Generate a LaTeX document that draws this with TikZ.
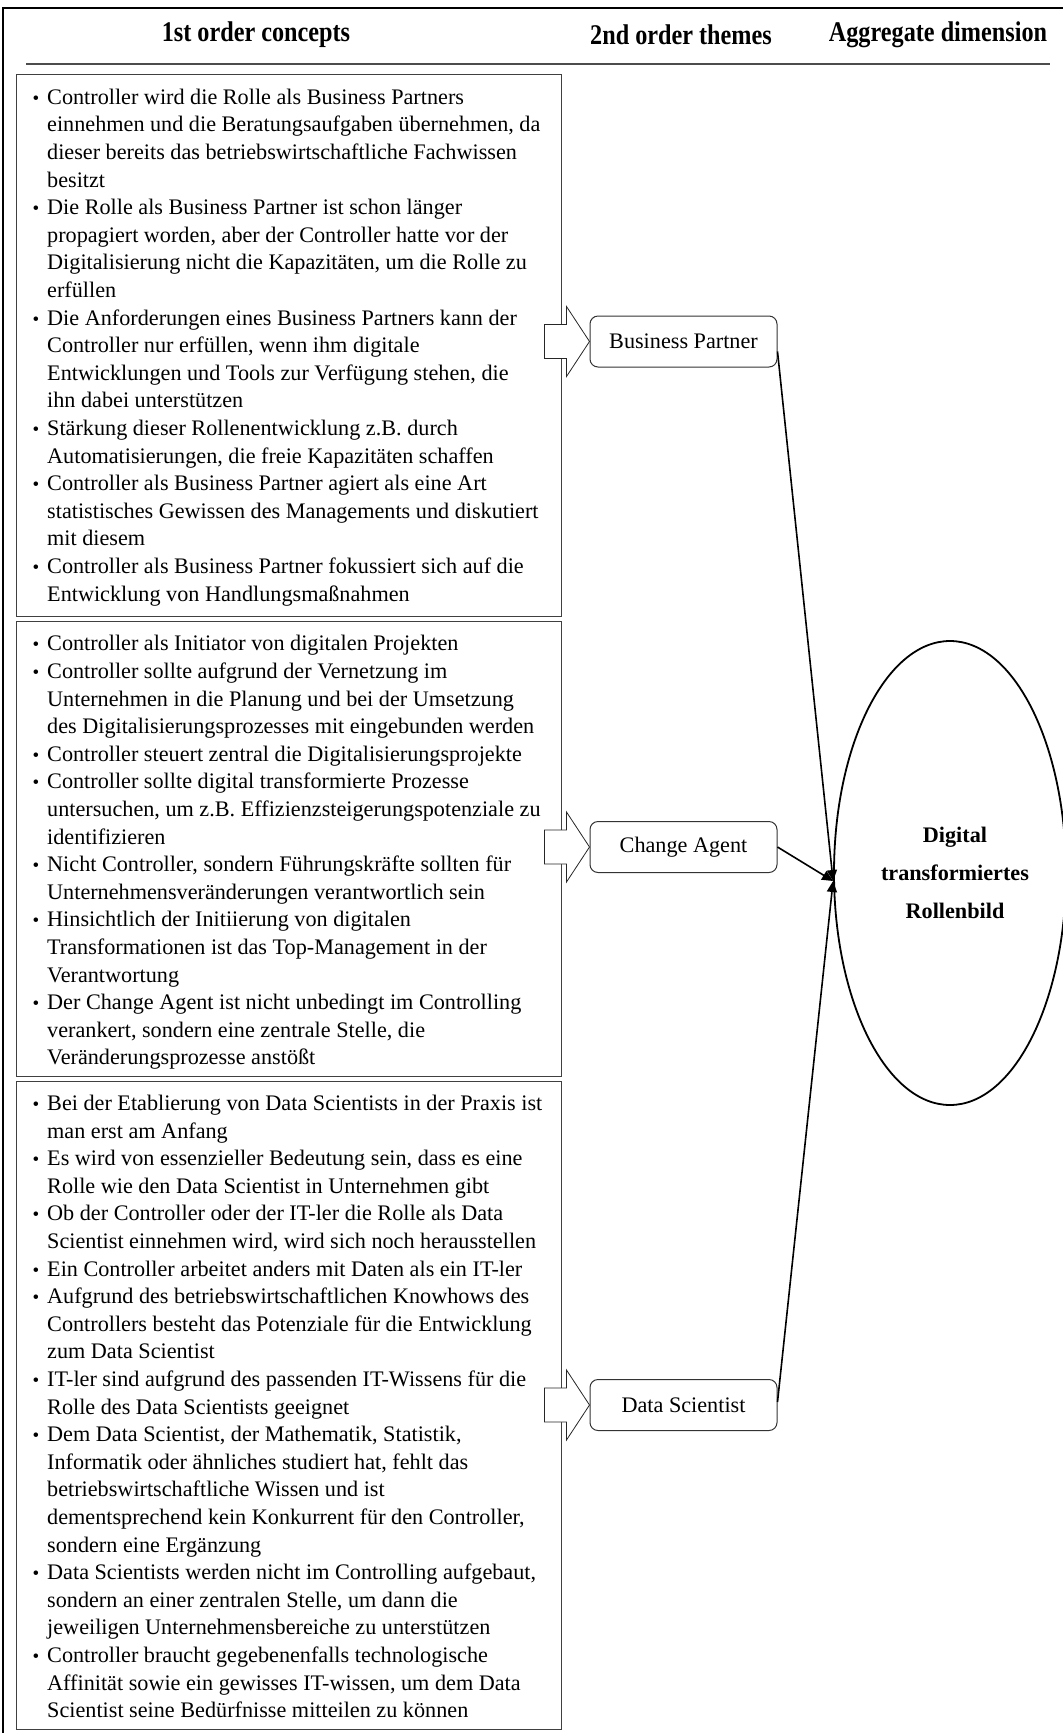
\documentclass[tikz,border=0pt]{standalone}
\usepackage{fontspec}
\setmainfont{Liberation Serif}
\newfontfamily\condfont{Liberation Serif}[FakeStretch=0.85]
\usetikzlibrary{arrows.meta,shapes.geometric}
\newcommand{\bul}{\raisebox{0pt}{\fontsize{19}{19}\selectfont\textbullet}}
\newcommand{\bodyfont}{\fontsize{22.2}{27.6}\selectfont}
\begin{document}
\begin{tikzpicture}[x=1pt,y=-1pt,
  conceptbox/.style={draw=black!75, line width=1pt, inner sep=0pt, anchor=north west},
  conceptText/.style={inner sep=0pt, anchor=north west, font=\bodyfont},
  theme/.style={draw=black!80, line width=1pt, rounded corners=8pt, minimum width=187pt, minimum height=51pt, inner sep=0pt, font=\bodyfont},
  headfont/.style={font=\condfont\fontsize{28.5}{32}\selectfont\bfseries},
  blockarrow/.style={draw=black!85, line width=0.8pt, fill=white},
  link/.style={line width=1.6pt, -{Triangle[length=11pt,width=10pt]}}
]
\useasboundingbox (0,0) rectangle (1063,1733);
% outer frame
\draw[line width=1.2pt] (3,1740) -- (3,8) -- (1070,8);
% header
\node[headfont] (h1) at (256,35) {1st order concepts};
\node[headfont] (h2) at (681,35) {2nd order themes};
\node[headfont] (h3) at (938,35) {Aggregate dimension};
\draw[line width=2pt, black!70] (26,64) -- (1050,64);

% concept boxes
\node[conceptbox, minimum width=545.5pt, minimum height=541.5pt] (b1) at (15.5,74) {};
\node[conceptbox, minimum width=545.5pt, minimum height=454.5pt] (b2) at (15.5,621) {};
\node[conceptbox, minimum width=545.5pt, minimum height=648pt] (b3) at (15.5,1081) {};

\node[conceptText] (t1) at ([xshift=17pt,yshift=-10.7pt]b1.north west) {%
\begin{tabular}{@{}p{14.5pt}@{}l@{}}
\bul & Controller wird die Rolle als Business Partners\\
 & einnehmen und die Beratungsaufgaben übernehmen, da\\
 & dieser bereits das betriebswirtschaftliche Fachwissen\\
 & besitzt\\
\bul & Die Rolle als Business Partner ist schon länger\\
 & propagiert worden, aber der Controller hatte vor der\\
 & Digitalisierung nicht die Kapazitäten, um die Rolle zu\\
 & erfüllen\\
\bul & Die Anforderungen eines Business Partners kann der\\
 & Controller nur erfüllen, wenn ihm digitale\\
 & Entwicklungen und Tools zur Verfügung stehen, die\\
 & ihn dabei unterstützen\\
\bul & Stärkung dieser Rollenentwicklung z.B. durch\\
 & Automatisierungen, die freie Kapazitäten schaffen\\
\bul & Controller als Business Partner agiert als eine Art\\
 & statistisches Gewissen des Managements und diskutiert\\
 & mit diesem\\
\bul & Controller als Business Partner fokussiert sich auf die\\
 & Entwicklung von Handlungsmaßnahmen
\end{tabular}};

\node[conceptText] (t2) at ([xshift=17pt,yshift=-10.4pt]b2.north west) {%
\begin{tabular}{@{}p{14.5pt}@{}l@{}}
\bul & Controller als Initiator von digitalen Projekten\\
\bul & Controller sollte aufgrund der Vernetzung im\\
 & Unternehmen in die Planung und bei der Umsetzung\\
 & des Digitalisierungsprozesses mit eingebunden werden\\
\bul & Controller steuert zentral die Digitalisierungsprojekte\\
\bul & Controller sollte digital transformierte Prozesse\\
 & untersuchen, um z.B. Effizienzsteigerungspotenziale zu\\
 & identifizieren\\
\bul & Nicht Controller, sondern Führungskräfte sollten für\\
 & Unternehmensveränderungen verantwortlich sein\\
\bul & Hinsichtlich der Initiierung von digitalen\\
 & Transformationen ist das Top-Management in der\\
 & Verantwortung\\
\bul & Der Change Agent ist nicht unbedingt im Controlling\\
 & verankert, sondern eine zentrale Stelle, die\\
 & Veränderungsprozesse anstößt
\end{tabular}};

\node[conceptText] (t3) at ([xshift=17pt,yshift=-10pt]b3.north west) {%
\begin{tabular}{@{}p{14.5pt}@{}l@{}}
\bul & Bei der Etablierung von Data Scientists in der Praxis ist\\
 & man erst am Anfang\\
\bul & Es wird von essenzieller Bedeutung sein, dass es eine\\
 & Rolle wie den Data Scientist in Unternehmen gibt\\
\bul & Ob der Controller oder der IT-ler die Rolle als Data\\
 & Scientist einnehmen wird, wird sich noch herausstellen\\
\bul & Ein Controller arbeitet anders mit Daten als ein IT-ler\\
\bul & Aufgrund des betriebswirtschaftlichen Knowhows des\\
 & Controllers besteht das Potenziale für die Entwicklung\\
 & zum Data Scientist\\
\bul & IT-ler sind aufgrund des passenden IT-Wissens für die\\
 & Rolle des Data Scientists geeignet\\
\bul & Dem Data Scientist, der Mathematik, Statistik,\\
 & Informatik oder ähnliches studiert hat, fehlt das\\
 & betriebswirtschaftliche Wissen und ist\\
 & dementsprechend kein Konkurrent für den Controller,\\
 & sondern eine Ergänzung\\
\bul & Data Scientists werden nicht im Controlling aufgebaut,\\
 & sondern an einer zentralen Stelle, um dann die\\
 & jeweiligen Unternehmensbereiche zu unterstützen\\
\bul & Controller braucht gegebenenfalls technologische\\
 & Affinität sowie ein gewisses IT-wissen, um dem Data\\
 & Scientist seine Bedürfnisse mitteilen zu können
\end{tabular}};

% theme nodes
\node[theme] (bp) at (683.5,341.5) {Business Partner};
\node[theme] (ca) at (683.5,847) {Change Agent};
\node[theme] (ds) at (683.5,1405) {Data Scientist};

% block arrows
\foreach \n in {bp,ca,ds}{
  \draw[blockarrow] ([shift={(-45,-17)}]\n.west) -- ([shift={(-23,-17)}]\n.west)
    -- ([shift={(-23,-35)}]\n.west) -- (\n.west) -- ([shift={(-23,35)}]\n.west)
    -- ([shift={(-23,17)}]\n.west) -- ([shift={(-45,17)}]\n.west) -- cycle;
}

% aggregate ellipse
\node[ellipse, draw, line width=1.8pt, minimum width=232pt, minimum height=464pt, inner sep=0pt,
  align=center, font=\fontsize{22.2}{38}\selectfont\bfseries] (agg) at (950,873)
  {\hspace*{10pt}Digital\\\hspace*{10pt}transformiertes\\\hspace*{10pt}Rollenbild};
\coordinate (meet) at ([yshift=-8pt]agg.west);

% connectors
\draw[link] ([yshift=-10pt]bp.east) -- (meet);
\draw[link] (ca.east) -- (meet);
\draw[link] ([yshift=3pt]ds.east) -- (meet);
\end{tikzpicture}
\end{document}
